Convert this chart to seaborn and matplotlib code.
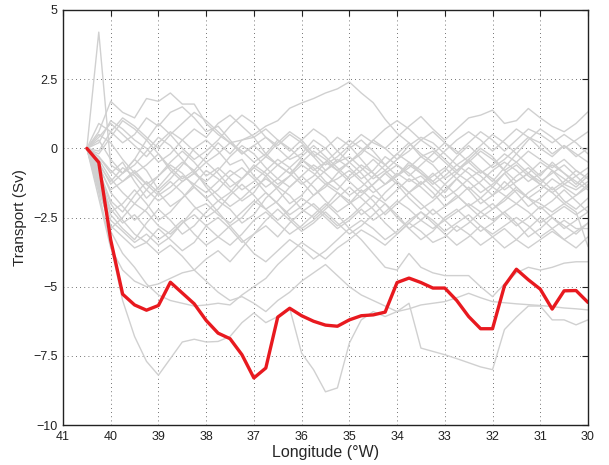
import numpy as np
import pandas as pd
import matplotlib
matplotlib.use("Agg")
import matplotlib.pyplot as plt
import seaborn as sns

# Longitude (°W) sample positions
longitude = [40.5, 40.25, 40.0, 39.75, 39.5, 39.25, 39.0, 38.75, 38.5, 38.25, 38.0,
             37.75, 37.5, 37.25, 37.0, 36.75, 36.5, 36.25, 36.0, 35.75, 35.5,
             35.25, 35.0, 34.75, 34.5, 34.25, 34.0, 33.75, 33.5, 33.25, 33.0,
             32.75, 32.5, 32.25, 32.0, 31.75, 31.5, 31.25, 31.0, 30.75, 30.5,
             30.25, 30.0]

# Highlighted (red) transport section
red_transport = [0, -0.51, -3.31, -5.27, -5.66, -5.85, -5.68, -4.84, -5.23, -5.62, -6.22,
                 -6.68, -6.88, -7.46, -8.30, -7.94, -6.10, -5.78, -6.05, -6.25, -6.39,
                 -6.43, -6.20, -6.05, -6.02, -5.92, -4.85, -4.69, -4.85, -5.05, -5.05,
                 -5.50, -6.08, -6.52, -6.52, -4.97, -4.37, -4.75, -5.09, -5.81, -5.15,
                 -5.14, -5.57]

# Grey ensemble members
g01 = [0, 4.2, -0.6, -0.9, -0.4, 0.3, -0.2, -0.8, -1.2, -0.9, -0.5, -0.9, -1.4, -1.1, -0.6, -0.9, -1.3, -1.0, -0.4, -0.7, -1.2, -1.5, -1.0, -0.6, -0.9, -1.3, -1.0, -0.5, -0.8, -1.2, -1.6, -1.1, -0.7, -1.0, -1.4, -0.9, -0.6, -1.0, -1.3, -0.8, -1.1, -1.4, -1.0]
g02 = [0, 0.5, 0.2, -0.4, -0.9, -0.6, -0.2, -0.7, -1.1, -0.8, -0.3, 0.2, -0.2, 0.3, 0.5, 0.8, 1.0, 1.45, 1.64, 1.8, 2.0, 2.15, 2.4, 2.0, 1.65, 1.05, 0.55, 0.2, -0.3, -0.1, -0.5, -0.9, -0.4, -0.8, -1.2, -0.7, -0.2, -0.6, -1.0, -0.5, -0.9, -1.3, -0.9]
g03 = [0, 0.6, 1.7, 1.3, 1.1, 1.8, 1.7, 2.0, 1.6, 1.6, 0.9, 0.5, 0.2, 0.3, 0.4, -0.2, -0.6, -0.3, 0.1, -0.3, -0.8, -0.5, 0.0, 0.3, -0.1, -0.6, -1.0, -0.7, -0.3, -0.6, -1.1, -0.8, -0.4, 0.0, -0.3, -0.8, -1.2, -0.9, -0.5, -0.8, -1.3, -1.0, -0.7]
g04 = [0, -0.3, -0.8, -1.2, -0.9, -1.3, -1.7, -1.4, -1.0, -1.3, -1.6, -1.2, -0.8, -1.1, -0.7, -0.3, -0.6, -0.9, -0.5, -0.1, -0.4, -0.8, -0.5, -0.1, 0.3, 0.0, 0.4, 0.8, 1.15, 0.7, 0.3, 0.7, 1.1, 1.2, 1.38, 0.9, 1.0, 1.44, 1.1, 0.8, 0.6, 0.9, 1.32]
g05 = [0, 0.9, 0.6, 0.2, 0.5, 1.1, 0.8, 1.3, 1.5, 1.1, 0.6, 0.8, 0.3, -0.2, 0.1, 0.4, 0.0, -0.4, -0.2, 0.3, 0.0, -0.5, -0.3, -0.7, -1.1, -0.8, -0.4, 0.1, 0.4, 0.2, -0.2, -0.6, -0.3, 0.1, 0.5, 0.2, -0.2, 0.3, 0.7, 0.4, 0.0, 0.3, 0.6]
g06 = [0, -0.2, 0.4, 1.0, 0.7, 0.3, 0.9, 0.5, 0.0, -0.4, -0.1, 0.3, 0.8, 1.2, 0.9, 0.4, 0.1, 0.5, 0.2, -0.3, 0.0, 0.4, 0.1, -0.4, -0.9, -1.3, -1.0, -0.6, -0.9, -1.2, -0.8, -0.3, 0.1, -0.3, -0.7, -0.4, 0.0, 0.4, 0.2, -0.2, 0.1, -0.3, 0.0]
g07 = [0, -0.5, -1.3, -0.9, -0.4, -0.8, -1.5, -1.1, -0.6, 0.0, 0.3, -0.1, -0.6, -0.4, -1.0, -1.4, -1.1, -0.7, -1.2, -1.7, -1.4, -0.9, -0.5, -0.9, -1.4, -1.9, -1.5, -1.1, -1.4, -1.8, -1.3, -0.9, -1.2, -1.6, -1.3, -0.9, -1.4, -1.8, -1.5, -1.1, -1.4, -1.7, -1.3]
g08 = [0, -0.8, -1.9, -2.3, -1.7, -1.2, -1.6, -2.1, -1.8, -1.3, -0.8, -1.1, -1.5, -1.9, -1.6, -1.0, -0.6, -0.9, -1.3, -1.0, -0.5, -0.8, -1.2, -1.6, -1.3, -0.9, -1.3, -1.8, -2.2, -1.9, -1.5, -1.1, -1.5, -2.0, -1.7, -1.2, -1.6, -2.1, -1.8, -1.4, -1.9, -2.2, -1.8]
g09 = [0, -1.1, -2.4, -2.9, -3.3, -2.7, -2.2, -2.6, -3.1, -2.8, -2.3, -1.9, -2.2, -2.7, -2.4, -1.8, -1.4, -1.7, -2.2, -2.5, -2.1, -1.6, -1.9, -2.4, -2.1, -1.6, -1.2, -1.6, -2.0, -2.4, -2.1, -1.7, -2.1, -2.5, -2.2, -1.8, -1.4, -1.8, -2.2, -1.9, -1.5, -1.9, -2.3]
g10 = [0, -1.5, -2.8, -3.2, -3.6, -3.4, -2.9, -3.3, -3.7, -3.4, -2.8, -2.5, -2.9, -3.4, -3.1, -2.6, -2.2, -2.6, -3.0, -2.7, -2.3, -2.7, -3.1, -2.8, -2.4, -2.0, -2.4, -2.9, -3.3, -3.0, -2.5, -2.2, -2.6, -3.0, -2.7, -2.3, -2.7, -3.2, -2.9, -2.5, -2.8, -3.1, -2.7]
g11 = [0, -0.3, -0.9, -0.5, -1.2, -1.8, -1.4, -0.9, -0.5, -0.8, -1.4, -1.9, -1.6, -1.1, -0.7, -1.0, -1.5, -2.0, -1.7, -1.2, -0.8, -0.4, -0.7, -1.1, -0.8, -0.3, -0.6, -1.0, -0.6, -0.2, 0.2, -0.1, -0.5, -0.9, -0.6, -0.2, -0.5, -0.9, -1.2, -0.9, -0.6, -1.0, -1.4]
g12 = [0, -0.6, -1.6, -2.1, -2.6, -2.2, -1.6, -1.2, -1.6, -2.1, -2.5, -2.2, -1.7, -1.3, -1.7, -2.2, -1.9, -1.4, -1.0, -1.4, -1.9, -2.3, -2.0, -1.5, -1.9, -2.4, -2.0, -1.6, -1.2, -1.6, -2.1, -1.8, -1.4, -1.8, -2.2, -1.9, -1.5, -1.8, -2.0, -2.3, -2.0, -2.3, -3.55]
g13 = [0, -1.8, -3.6, -4.4, -4.8, -5.0, -4.9, -4.7, -4.5, -4.4, -4.0, -3.7, -4.1, -3.6, -3.1, -2.8, -3.2, -2.7, -2.3, -2.0, -2.4, -2.8, -2.5, -2.1, -1.7, -2.0, -2.5, -2.9, -2.6, -2.2, -2.6, -3.0, -2.7, -2.3, -2.0, -2.4, -2.8, -2.5, -2.1, -2.5, -2.9, -2.6, -2.3]
g14 = [0, -1.3, -3.0, -3.8, -4.3, -4.9, -5.3, -5.5, -5.6, -5.7, -5.66, -5.6, -5.66, -5.3, -5.0, -4.7, -4.2, -3.8, -3.4, -3.7, -4.0, -3.6, -3.3, -2.95, -3.2, -3.5, -3.1, -2.7, -3.0, -3.4, -3.2, -2.8, -3.1, -3.5, -3.2, -2.9, -3.3, -3.6, -3.3, -3.0, -3.3, -3.6, -3.2]
g15 = [0, -1.0, -2.2, -2.7, -2.4, -2.9, -3.3, -3.0, -2.6, -3.1, -3.5, -3.2, -2.8, -3.3, -3.8, -4.1, -3.7, -3.3, -3.6, -4.0, -3.7, -3.3, -2.9, -3.3, -3.8, -4.3, -4.4, -3.8, -4.3, -4.5, -4.6, -4.6, -4.6, -5.0, -5.36, -4.9, -4.5, -4.3, -4.4, -4.3, -4.15, -4.1, -4.1]
g16 = [0, -1.6, -3.5, -5.5, -6.8, -7.7, -8.2, -7.6, -7.0, -6.9, -7.0, -6.98, -6.8, -6.3, -5.95, -6.3, -6.08, -5.78, -7.4, -8.0, -8.8, -8.66, -7.04, -6.2, -5.9, -6.08, -5.9, -5.6, -7.22, -7.34, -7.46, -7.6, -7.75, -7.9, -8.0, -6.55, -6.1, -5.7, -5.7, -6.2, -6.2, -6.38, -6.2]
g17 = [0, -0.9, -2.0, -2.6, -3.1, -3.4, -3.8, -3.5, -3.9, -4.4, -4.8, -5.2, -5.5, -5.36, -5.6, -5.9, -5.5, -5.2, -4.8, -4.5, -4.2, -4.6, -5.0, -5.3, -5.5, -5.7, -5.9, -5.8, -5.66, -5.6, -5.54, -5.4, -5.24, -5.4, -5.54, -5.58, -5.62, -5.65, -5.68, -5.72, -5.77, -5.8, -5.84]
g18 = [0, -0.4, -1.1, -1.6, -2.0, -1.5, -1.0, -0.6, -0.9, -1.4, -1.8, -1.5, -1.0, -0.7, -1.1, -1.6, -2.0, -2.4, -2.1, -1.7, -1.3, -1.6, -2.0, -1.7, -1.3, -0.9, -0.6, -0.9, -1.3, -1.0, -0.7, -1.1, -1.5, -1.2, -0.8, -0.5, -0.8, -1.2, -0.9, -0.6, -0.9, -1.2, -1.5]
g19 = [0, 0.3, -0.4, -0.9, -0.6, -0.1, 0.4, 0.1, -0.4, -0.9, -1.2, -0.8, -0.3, 0.1, -0.2, -0.7, -1.1, -1.4, -1.0, -0.6, -0.9, -1.3, -1.7, -1.4, -1.0, -0.6, -0.2, -0.5, -0.9, -1.3, -1.0, -0.6, -0.9, -1.3, -1.7, -1.4, -1.0, -0.7, -1.1, -1.5, -1.2, -0.8, -1.1]
g20 = [0, 0.2, 1.0, 0.7, 0.3, 0.0, -0.5, -0.2, 0.3, 0.7, 0.4, 0.9, 1.2, 0.8, 0.4, 0.7, 0.3, -0.1, 0.3, 0.7, 0.4, -0.1, -0.5, -0.2, 0.3, 0.7, 1.0, 0.7, 0.3, 0.6, 0.2, -0.2, 0.2, 0.6, 0.3, -0.1, 0.3, 0.7, 0.5, 0.2, 0.5, 0.2, -0.2]
g21 = [0, -0.9, -2.3, -2.0, -1.5, -2.0, -2.6, -2.3, -1.8, -1.4, -1.8, -2.3, -2.8, -2.5, -2.0, -1.6, -2.0, -2.5, -2.9, -2.6, -2.2, -1.8, -1.4, -1.8, -2.2, -2.7, -3.1, -2.7, -2.3, -2.7, -3.1, -3.5, -3.2, -2.8, -3.2, -3.6, -3.3, -2.9, -2.5, -2.9, -3.3, -3.0, -2.7]
g22 = [0, -0.7, -1.5, -1.2, -0.8, -1.3, -1.0, -0.5, -0.1, -0.5, -1.0, -0.7, -1.1, -1.5, -1.2, -0.8, -0.4, -0.7, -0.3, 0.1, -0.3, -0.7, -1.1, -0.8, -0.4, -0.8, -1.2, -1.6, -1.3, -0.9, -1.3, -1.7, -2.1, -1.8, -1.4, -1.7, -2.0, -1.6, -1.3, -1.6, -2.0, -1.7, -1.4]
g23 = [0, -0.1, 0.6, 1.1, 0.8, 0.4, 0.0, 0.5, 0.9, 1.3, 1.0, 0.6, 0.2, -0.2, 0.1, -0.3, 0.2, 0.6, 0.3, -0.2, -0.6, -0.3, 0.1, 0.5, 0.2, 0.0, -0.4, -0.1, 0.3, 0.0, -0.4, -0.8, -0.5, -0.1, -0.4, -0.8, -0.5, -0.1, -0.4, -0.7, -0.4, -0.8, -1.1]
g24 = [0, -1.2, -2.6, -3.0, -3.4, -3.1, -3.5, -3.2, -2.7, -2.4, -2.8, -3.2, -3.5, -3.1, -2.6, -2.3, -2.7, -3.1, -2.8, -2.4, -2.0, -2.4, -2.9, -2.6, -2.9, -3.3, -3.0, -2.6, -2.3, -2.6, -3.0, -2.7, -2.4, -2.8, -3.1, -2.8, -2.5, -2.8, -3.2, -2.9, -2.6, -2.9, -2.9]
g25 = [0, -0.6, -1.2, -0.7, -1.0, -1.5, -1.9, -1.6, -1.2, -0.9, -1.3, -1.7, -2.1, -1.8, -1.4, -1.1, -1.4, -1.0, -0.6, -0.9, -1.3, -1.1, -0.8, -1.2, -1.6, -1.3, -0.9, -1.2, -1.0, -1.4, -1.8, -1.5, -1.1, -0.8, -1.1, -1.5, -1.2, -0.9, -1.3, -1.6, -1.3, -1.5, -1.2]
g26 = [0, 0.4, 0.9, 0.5, 0.1, -0.3, 0.2, 0.6, 0.3, -0.1, -0.5, -0.2, 0.2, -0.1, -0.5, -0.2, 0.3, 0.0, -0.4, -0.8, -0.5, -0.1, 0.3, 0.0, -0.3, -0.6, -0.2, 0.2, -0.2, -0.5, -0.1, 0.3, 0.6, 0.3, -0.1, 0.3, 0.7, 0.4, 0.0, -0.3, 0.1, -0.2, -0.5]
g27 = [0, -1.4, -2.9, -2.5, -2.0, -2.3, -2.8, -3.1, -2.7, -2.2, -2.0, -2.4, -2.7, -2.3, -1.9, -2.2, -2.6, -2.2, -1.8, -2.1, -2.5, -2.9, -2.6, -2.2, -2.6, -2.3, -1.9, -2.2, -2.6, -2.9, -2.6, -2.3, -2.0, -2.3, -2.6, -2.3, -2.0, -2.3, -2.7, -2.4, -2.1, -2.4, -2.1]

grey_members = [g01, g02, g03, g04, g05, g06, g07, g08, g09, g10, g11, g12, g13, g14,
                g15, g16, g17, g18, g19, g20, g21, g22, g23, g24, g25, g26, g27]

x_ticks = [41, 40, 39, 38, 37, 36, 35, 34, 33, 32, 31, 30]
y_ticks = [-10, -7.5, -5, -2.5, 0, 2.5, 5]
y_ticklabels = ["\u221210", "\u22127.5", "\u22125", "\u22122.5", "0", "2.5", "5"]

# ---------------------------------------------------------------
sns.set_style("white")
plt.rcParams["font.family"] = ["Liberation Sans", "DejaVu Sans"]

rows = []
for i, member in enumerate(grey_members):
    for lon, v in zip(longitude, member):
        rows.append({"run": i, "lon": lon, "transport": v})
grey_df = pd.DataFrame(rows)
red_df = pd.DataFrame({"lon": longitude, "transport": red_transport})

fig = plt.figure(figsize=(6.09, 4.65), dpi=100)
ax = fig.add_axes([0.1034, 0.086, 0.8621, 0.8925])

sns.lineplot(data=grey_df, x="lon", y="transport", units="run", estimator=None,
             color="#d0d0d0", linewidth=1.0, ax=ax, legend=False, sort=False)
sns.lineplot(data=red_df, x="lon", y="transport", estimator=None,
             color="#e8191f", linewidth=2.4, ax=ax, legend=False, sort=False)

ax.set_xlim(41, 30)
ax.set_ylim(-10, 5)
ax.set_xticks(x_ticks)
ax.set_xticklabels([str(t) for t in x_ticks])
ax.set_yticks(y_ticks)
ax.set_yticklabels(y_ticklabels)

ax.grid(True, linestyle=(0, (1, 4)), color="#444444", linewidth=0.6)
ax.set_axisbelow(True)
ax.tick_params(direction="in", length=4, width=0.8, top=True, right=True,
               labelsize=9, colors="#222222", pad=4)
for side in ["left", "right", "top", "bottom"]:
    ax.spines[side].set_visible(True)
    ax.spines[side].set_color("#222222")
    ax.spines[side].set_linewidth(1.0)

ax.set_xlabel("Longitude (\u00b0W)", fontsize=11.5, labelpad=2)
ax.set_ylabel("Transport (Sv)", fontsize=11, labelpad=4)

fig.savefig("out.png", dpi=100)
